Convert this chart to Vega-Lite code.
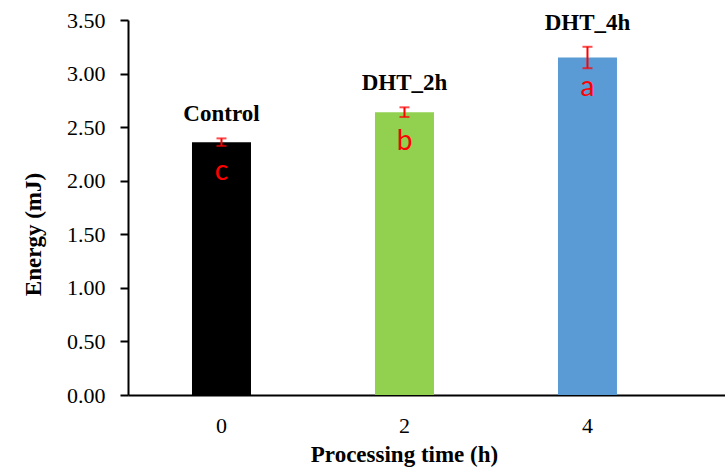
{
  "$schema": "https://vega.github.io/schema/vega-lite/v6.json",
  "autosize": "none",
  "width": 597,
  "height": 375,
  "padding": {"left": 128, "top": 20, "right": 0, "bottom": 80},
  "background": "white",
  "config": {"view": {"stroke": null}, "font": "Liberation Serif"},
  "data": {"values": [
    {"time": "0", "group": "Control", "energy": 2.36, "err": 0.035, "letter": "c"},
    {"time": "2", "group": "DHT_2h", "energy": 2.64, "err": 0.045, "letter": "b"},
    {"time": "4", "group": "DHT_4h", "energy": 3.15, "err": 0.1, "letter": "a"}
  ]},
  "transform": [
    {"calculate": "datum.energy - datum.err", "as": "lo"},
    {"calculate": "datum.energy + datum.err", "as": "hi"}
  ],
  "encoding": {
    "x": {
      "field": "time", "type": "nominal", "sort": null,
      "scale": {"paddingInner": 0.6776, "paddingOuter": 0.47, "align": 0.372},
      "axis": {
        "title": "Processing time (h)", "labelAngle": 0, "ticks": false,
        "domainColor": "black", "domainWidth": 2,
        "labelFont": "Liberation Serif", "labelFontSize": 22, "labelColor": "black", "labelPadding": 20,
        "titleFont": "Liberation Serif", "titleFontSize": 23, "titleFontWeight": "bold", "titleColor": "black",
        "titleX": 276, "titleY": 66, "titleBaseline": "alphabetic", "titleAlign": "center"
      }
    }
  },
  "layer": [
    {
      "mark": {"type": "bar"},
      "encoding": {
        "y": {
          "field": "energy", "type": "quantitative",
          "scale": {"domain": [0, 3.5], "nice": false},
          "axis": {
            "title": "Energy (mJ)", "values": [0, 0.5, 1, 1.5, 2, 2.5, 3, 3.5], "format": ".2f",
            "grid": false, "domainColor": "black", "domainWidth": 2,
            "tickColor": "black", "tickWidth": 2, "tickSize": 8,
            "labelFont": "Liberation Serif", "labelFontSize": 22, "labelColor": "black", "labelPadding": 15,
            "titleFont": "Liberation Serif", "titleFontSize": 23, "titleFontWeight": "bold", "titleColor": "black",
            "titleX": -88, "titleY": 214, "titleBaseline": "alphabetic", "titleAlign": "center", "titleAngle": -90
          }
        },
        "color": {
          "field": "group", "type": "nominal", "legend": null,
          "scale": {"domain": ["Control", "DHT_2h", "DHT_4h"], "range": ["#000000", "#92D050", "#5B9BD5"]}
        }
      }
    },
    {
      "mark": {"type": "rule", "color": "#FF0000", "strokeWidth": 2},
      "encoding": {"y": {"field": "lo", "type": "quantitative"}, "y2": {"field": "hi"}}
    },
    {
      "mark": {"type": "tick", "color": "#FF0000", "thickness": 2, "size": 10, "orient": "horizontal"},
      "encoding": {"y": {"field": "lo", "type": "quantitative"}}
    },
    {
      "mark": {"type": "tick", "color": "#FF0000", "thickness": 2, "size": 10, "orient": "horizontal"},
      "encoding": {"y": {"field": "hi", "type": "quantitative"}}
    },
    {
      "mark": {"type": "text", "font": "Liberation Serif", "fontSize": 23, "fontWeight": "bold", "color": "black", "baseline": "alphabetic", "dy": -17},
      "encoding": {"y": {"field": "hi", "type": "quantitative"}, "text": {"field": "group"}}
    },
    {
      "mark": {"type": "text", "font": "Lato", "fontSize": 28, "color": "#FF0000", "baseline": "alphabetic", "dy": 38},
      "encoding": {"y": {"field": "energy", "type": "quantitative"}, "text": {"field": "letter"}}
    }
  ]
}
